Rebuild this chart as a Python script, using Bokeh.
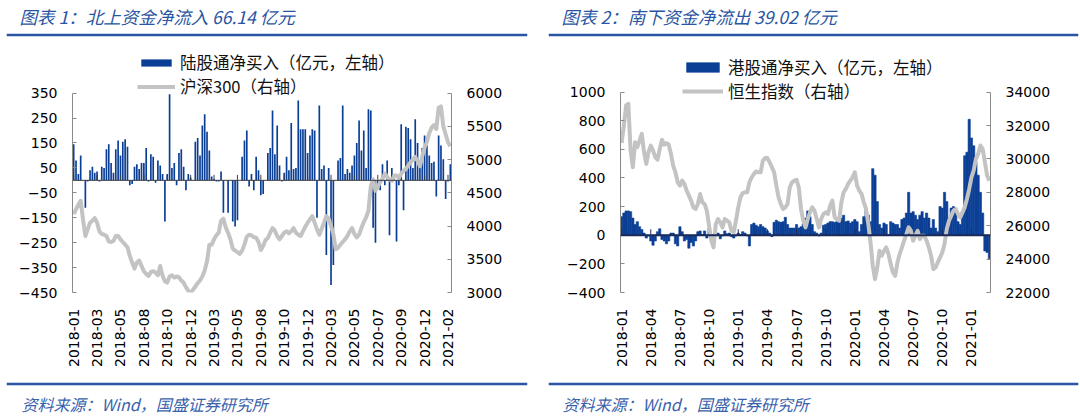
import numpy as np
from bokeh.plotting import figure
from bokeh.models import (Range1d, LinearAxis, FixedTicker, Span, Legend, LegendItem, Label)
from bokeh.layouts import column, row
from bokeh.embed import file_html
from bokeh.resources import INLINE
from bokeh.core.properties import value

# ---------------- data ----------------
# Northbound (陆股通) weekly net buy, 亿元
nb_flow = [145, 80, 25, 100, 0, -110, -5, 40, 55, 30,
           35, -5, 55, 50, 125, 145, 70, 30, 125, 160,
           100, 155, 165, 135, -20, -15, 55, 65, 45, 70,
           70, 130, -5, 105, 95, -10, 80, 60, 25, -165,
           25, 345, 50, 70, -20, 110, 125, 55, -40, 25,
           10, 0, 155, 170, 100, 220, 265, 195, 120, 15,
           5, -5, -5, 35, -130, 0, -130, 0, -165, -185,
           -160, 0, 95, 160, 200, -25, 25, -40, 95, 40,
           -60, -55, 0, 110, 130, 280, 105, 220, 60, -5,
           30, 95, 40, 230, 45, 50, 320, 205, 205, 205,
           110, 180, 205, 200, -150, 300, 45, 60, -300, 50,
           -420, -340, 0, 80, 90, 300, 25, 45, 30, 60,
           100, 150, 240, 120, 200, 50, 285, 280, -190, -250,
           -30, -40, 65, -20, 80, -220, 50, 10, -245, -20,
           225, -120, 215, 210, 165, 50, 245, 150, 70, 130,
           180, 140, 100, 70, 75, -65, 180, 140, 85, -75,
           -5, 65]
# CSI 300 (沪深300), weekly
hs300 = [4180, 4250, 4320, 4380, 4100, 3850, 3950, 4050, 4080, 4120,
         4050, 3920, 3880, 3870, 3850, 3770, 3760, 3775, 3850, 3850,
         3800, 3760, 3720, 3680, 3550, 3450, 3360, 3450, 3480, 3400,
         3320, 3280, 3250, 3310, 3320, 3300, 3260, 3400, 3250, 3170,
         3150, 3240, 3260, 3225, 3240, 3230, 3180, 3150, 3080, 3025,
         3000, 3040, 3090, 3140, 3180, 3240, 3330, 3470, 3720, 3720,
         3800, 3860, 3900, 4080, 4110, 3980, 3900, 3800, 3660, 3630,
         3610, 3580, 3630, 3720, 3840, 3870, 3860, 3830, 3825, 3760,
         3640, 3700, 3790, 3820, 3900, 3970, 3930, 3850, 3800, 3850,
         3900, 3920, 3890, 3920, 3970, 3900, 3870, 3850, 3920, 3990,
         4050, 4100, 4150, 4050, 3950, 3870, 3960, 4050, 4150, 4110,
         4000, 3880, 3650, 3670, 3720, 3760, 3800, 3850, 3920, 3970,
         3880, 3830, 3870, 3970, 4060, 4130, 4230, 4600, 4700, 4530,
         4590, 4660, 4710, 4790, 4740, 4700, 4680, 4760, 4760, 4720,
         4790, 4830, 4860, 4910, 4960, 5000, 5040, 4980, 4900, 5050,
         5180, 5270, 5400, 5480, 5520, 5460, 5780, 5800, 5500, 5380,
         5260, 5200]
nb_tick_labels = ["2018-01", "2018-03", "2018-05", "2018-08", "2018-10", "2018-12",
                  "2019-03", "2019-05", "2019-08", "2019-10", "2019-12",
                  "2020-03", "2020-05", "2020-07", "2020-09", "2020-12", "2021-02"]
nb_tick_step = 10
nb_left_ticks = [-450, -350, -250, -150, -50, 50, 150, 250, 350]
nb_right_ticks = [3000, 3500, 4000, 4500, 5000, 5500, 6000]

# Southbound (港股通) weekly net buy, 亿元
sb_flow = [130, 155, 170, 170, 165, 120, 75, 95, 60, 40,
           15, -20, -5, -40, -70, -40, 25, 45, -30, -40,
           -60, -40, 15, 15, -60, -75, 60, 25, -40, -30,
           -90, -50, -75, -40, 25, 30, 5, 30, -20, 50,
           5, -25, 5, 15, -25, -5, 30, 10, 15, -10,
           -20, -5, 15, 5, 25, 15, -5, -75, 75, 85,
           70, 60, 75, 60, 50, 30, 15, -10, 90, 105,
           95, 90, 95, 125, 75, 50, 50, 50,
           75, 50, 60, 80, 120, 170, 130, 75, 25, 15,
           -5, 15, 70, 75, 85, 95, 95, 90, 95, 100,
           120, 140, 95, 100, 85, 95, 110, 95, 25, 75,
           130, 190, 140, 95, 465, 420, 235, 75, 50, 85,
           75, 5, 95, 85, 75, 75, 50, 110, 120, 155,
           300, 155, 165, 140, 110, 140, 165, 120, 155, 120,
           50, 110, 50, 25, 200, 190, 300, 235, 120, 190,
           200, 165, 95, 75, 165, 555, 580, 810, 680, 625,
           510, 420,
           300, 155, -110, -120, -165]
# Hang Seng Index (恒生指数), weekly
hsi = [30950, 32000, 33200, 33300, 30500, 29500, 31000, 30700, 31100, 31500,
       30400, 29700, 30400, 30800, 30500, 30100, 29950, 30600, 31150, 30850,
       30950, 30850, 30300, 29600, 29200, 28600, 28400, 28700, 28500, 28100,
       27800, 27500, 27100, 27000, 27300, 27900, 27400, 27300, 26900, 26000,
       25100, 24700, 26100, 26400, 26200, 25900, 26400, 26300, 26200, 25700,
       25600, 26300, 27100, 27700, 27950, 28000, 28000, 28600, 28900, 29100,
       29250, 29200, 29200, 29900, 30050, 30050, 29800, 29500, 29200, 28400,
       27700, 27300, 27000, 27100, 27300, 28300, 28600, 28700, 28750, 28300,
       27000, 26300, 25900, 26400, 26800, 27100, 26900, 26400, 25900, 26400,
       26700, 26800, 26700, 27200, 27500, 26500, 26400, 26300, 27400, 28000,
       28200, 28500, 28700, 28900, 29200, 28400, 28100, 27900, 27400, 27000,
       26100, 25000, 23600, 22800, 23500, 24500, 24200, 24500, 24700, 24300,
       23700, 23200, 23000, 23800, 24300, 24700, 25100, 25500, 25900, 25700,
       25100, 25400, 25700, 25200, 25400, 25400, 25100, 24700, 24200, 23400,
       23500, 23800, 24100, 24400, 24900, 25800, 26300, 26600, 26900, 27000,
       26700, 26500, 26800, 27100, 27600, 28200, 28900, 29300, 30000, 30300,
       30800, 30600, 29800, 29000, 28700]
sb_tick_labels = ["2018-01", "2018-04", "2018-07", "2018-10", "2019-01", "2019-04",
                  "2019-07", "2019-10", "2020-01", "2020-04", "2020-07", "2020-10", "2021-01"]
sb_tick_step = 13
sb_left_ticks = [-400, -200, 0, 200, 400, 600, 800, 1000]
sb_right_ticks = [22000, 24000, 26000, 28000, 30000, 32000, 34000]

title_left = "图表 1：北上资金净流入 66.14 亿元"
title_right = "图表 2：南下资金净流出 39.02 亿元"
source_text = "资料来源：Wind，国盛证券研究所"
legend_left = ["陆股通净买入（亿元，左轴）", "沪深300（右轴）"]
legend_right = ["港股通净买入（亿元，左轴）", "恒生指数（右轴）"]

# ---------------- styles ----------------
BLUE = "#0b3f96"
GRAY = "#c3c3c3"
AXIS = "#8a8a8a"
TITLE_BLUE = "#2a55a2"
SRC_BLUE = "#3a62ab"
FONT_NUM = "DejaVu Sans"
FONT_CJK = "Noto Sans CJK SC"
PANEL_W = 540
CHART_H = 336


def style_yaxis(ax, ticks, bounds):
    ax.ticker = FixedTicker(ticks=ticks)
    ax.bounds = bounds
    ax.axis_line_color = AXIS
    ax.axis_line_width = 1
    ax.major_tick_line_color = AXIS
    ax.major_tick_in = 4
    ax.major_tick_out = 0
    ax.minor_tick_line_color = None
    ax.major_label_standoff = 15
    ax.major_label_text_font = FONT_NUM
    ax.major_label_text_font_size = "14px"
    ax.major_label_text_color = "#000000"


def make_chart(flow, idx, tick_labels, tick_step, yl, yr, lticks, rl, rr, rticks,
               borders, extra_top_px, bar_width, bar_line, zero_color, zero_width,
               tick_mark_px, legend_labels, legend_loc, glyph_w, glyph_h):
    n = len(flow)
    bl, br, bt, bb = borders
    frame_h = CHART_H - bt - bb
    data_h = frame_h - extra_top_px
    yr_top = yr + extra_top_px * (yr - yl) / data_h
    rr_top = rr + extra_top_px * (rr - rl) / data_h
    p = figure(width=PANEL_W, height=CHART_H, x_range=Range1d(-0.5, n - 0.5),
               y_range=Range1d(yl, yr_top), output_backend="svg", toolbar_location=None,
               min_border_left=bl, min_border_right=br, min_border_top=bt, min_border_bottom=bb)
    p.outline_line_color = None
    p.xgrid.visible = False
    p.ygrid.visible = False
    p.extra_y_ranges = {"r": Range1d(rl, rr_top)}

    x = list(range(n))
    bars = p.vbar(x=x, top=flow, bottom=0, width=bar_width, fill_color=BLUE,
                  line_color=BLUE if bar_line else None, line_width=0.6)
    p.add_layout(Span(location=0, dimension="width", line_color=zero_color, line_width=zero_width))
    tick_pos = list(range(0, n, tick_step))[:len(tick_labels)]
    mid = (tick_mark_px / 2.0 + zero_width / 2.0) * (yr - yl) / data_h
    p.scatter(x=tick_pos, y=[mid] * len(tick_pos), marker="dash", angle=np.pi / 2,
              size=tick_mark_px, line_color=zero_color, line_width=1)
    ln = p.line(x=list(range(len(idx))), y=idx, y_range_name="r", line_color=GRAY,
                line_width=4, line_join="round")

    style_yaxis(p.yaxis[0], lticks, (yl, yr))
    rax = LinearAxis(y_range_name="r")
    style_yaxis(rax, rticks, (rl, rr))
    p.add_layout(rax, "right")

    xa = p.xaxis[0]
    xa.ticker = FixedTicker(ticks=tick_pos)
    xa.major_label_overrides = {t: lab for t, lab in zip(tick_pos, tick_labels)}
    xa.major_label_orientation = np.pi / 2
    xa.axis_line_color = None
    xa.major_tick_line_color = None
    xa.minor_tick_line_color = None
    xa.major_tick_in = 0
    xa.major_tick_out = 0
    xa.major_label_standoff = 16
    xa.major_label_text_font = FONT_NUM
    xa.major_label_text_font_size = "14px"
    xa.major_label_text_color = "#000000"

    leg = Legend(items=[LegendItem(label=value(legend_labels[0]), renderers=[bars]),
                        LegendItem(label=value(legend_labels[1]), renderers=[ln])],
                 location=legend_loc, orientation="vertical",
                 glyph_width=glyph_w, glyph_height=glyph_h, label_standoff=5,
                 spacing=0, padding=0, margin=0, label_height=22,
                 label_text_font=FONT_CJK, label_text_font_size="16.5px",
                 label_text_color="#111111", background_fill_alpha=0,
                 border_line_alpha=0)
    p.add_layout(leg)
    return p


def make_banner(text, height, rule_y, text_y, text_x, border_left, border_right, color, size):
    b = figure(width=PANEL_W, height=height, x_range=Range1d(0, 1), y_range=Range1d(0, height),
               output_backend="svg", toolbar_location=None, x_axis_location=None,
               y_axis_location=None, min_border_left=border_left, min_border_right=border_right,
               min_border_top=0, min_border_bottom=0)
    b.outline_line_color = None
    b.xgrid.visible = False
    b.ygrid.visible = False
    b.add_layout(Span(location=rule_y, dimension="width", line_color=TITLE_BLUE, line_width=2.5))
    b.add_layout(Label(x=text_x, y=text_y, x_units="screen", y_units="data", text=text,
                       text_font=FONT_CJK, text_font_size=size, text_font_style="italic",
                       text_color=color, text_baseline="middle", text_align="left"))
    return b


# left chart: frame x 72..451, data area y 91..292 (figure starts at y=40)
left_chart = make_chart(nb_flow, hs300, nb_tick_labels, nb_tick_step, -450, 350, nb_left_ticks,
                        3000, 6000, nb_right_ticks, (72, 89, 1, 84), 50, 0.72, False,
                        "#3c3c3c", 1, 5, legend_left, (65, 194), 38, 9)
# right chart: frame x 620..990, data area y 92..294
right_chart = make_chart(sb_flow, hsi, sb_tick_labels, sb_tick_step, -400, 1000, sb_left_ticks,
                         22000, 34000, sb_right_ticks, (80, 90, 3, 82), 49, 1.0, True,
                         "#1b2a57", 2, 5, legend_right, (62, 189), 41, 12)

top_left = make_banner(title_left, 40, 5.4, 24.4, 13, 6, 13, TITLE_BLUE, "17.5px")
top_right = make_banner(title_right, 40, 5.4, 24.4, 13, 8, 2, TITLE_BLUE, "17.5px")
bot_left = make_banner(source_text, 43, 35.4, 15.3, 15, 6, 13, SRC_BLUE, "16px")
bot_right = make_banner(source_text, 43, 35.4, 15.3, 14, 8, 2, SRC_BLUE, "16px")

layout = column(row(top_left, top_right), row(left_chart, right_chart), row(bot_left, bot_right))

open("out.html", "w").write(file_html(layout, INLINE))
